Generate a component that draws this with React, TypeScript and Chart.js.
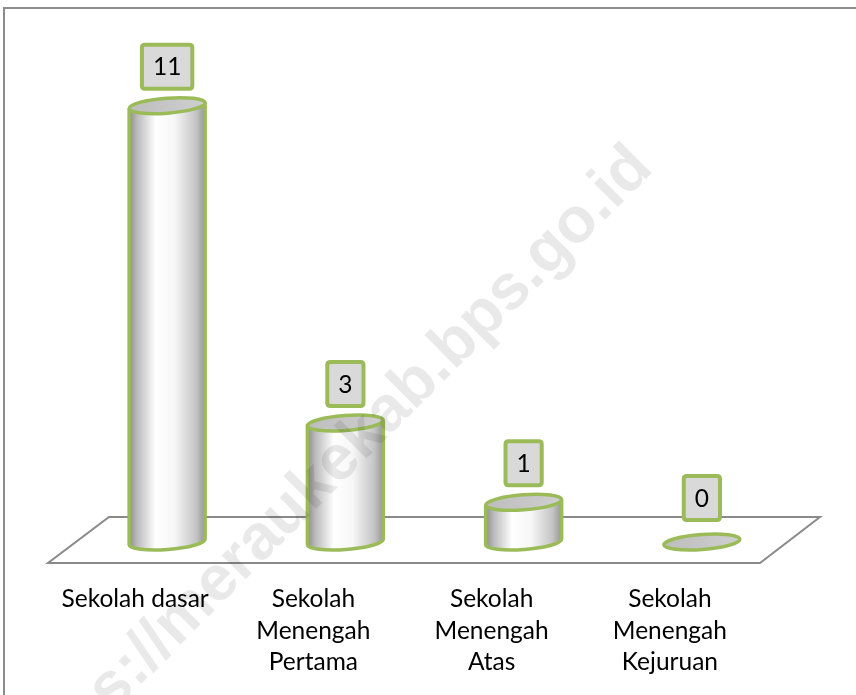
import React, { useEffect, useRef } from "react";
import { Chart, registerables } from "chart.js";

Chart.register(...registerables);

const categories: string[][] = [
  ["Sekolah dasar"],
  ["Sekolah", "Menengah", "Pertama"],
  ["Sekolah", "Menengah", "Atas"],
  ["Sekolah", "Menengah", "Kejuruan"],
];
const values: number[] = [11, 3, 1, 0];
const yMin = 0;
const yMax = 12;
const watermark = "https://meraukekab.bps.go.id";

const GREEN = "#9BBB59";
const FONT = "24.5px Lato";

function drawCylinder(ctx: CanvasRenderingContext2D, cx: number, yTop: number, yBot: number, rx: number, ry: number, rot: number) {
  ctx.save();
  if (yBot - yTop > 0.5) {
    const g = ctx.createLinearGradient(cx - rx, 0, cx + rx, 0);
    g.addColorStop(0, "#8c8c8c");
    g.addColorStop(0.1, "#b8b8b8");
    g.addColorStop(0.35, "#ffffff");
    g.addColorStop(0.6, "#f6f6f6");
    g.addColorStop(0.88, "#c4c4c4");
    g.addColorStop(1, "#959595");
    ctx.beginPath();
    ctx.ellipse(cx, yBot, rx, ry, rot, 0, Math.PI, false);
    ctx.ellipse(cx, yTop, rx, ry, rot, Math.PI, 2 * Math.PI, false);
    ctx.closePath();
    ctx.fillStyle = g;
    ctx.fill();
    ctx.beginPath();
    ctx.ellipse(cx, yTop, rx, ry, rot, 0, 0, false);
    ctx.ellipse(cx, yBot, rx, ry, rot, 0, Math.PI, false);
    ctx.ellipse(cx, yTop, rx, ry, rot, Math.PI, Math.PI, false);
    ctx.strokeStyle = GREEN;
    ctx.lineWidth = 3.5;
    ctx.lineJoin = "round";
    ctx.stroke();
  }
  const tg = ctx.createLinearGradient(cx - rx, 0, cx + rx, 0);
  tg.addColorStop(0, "#bdbdbd");
  tg.addColorStop(1, "#cfcfcf");
  ctx.beginPath();
  ctx.ellipse(cx, yTop, rx, ry, rot, 0, 2 * Math.PI);
  ctx.fillStyle = tg;
  ctx.fill();
  ctx.strokeStyle = GREEN;
  ctx.lineWidth = 3.5;
  ctx.stroke();
  ctx.restore();
}

function roundRect(ctx: CanvasRenderingContext2D, x: number, y: number, w: number, h: number, r: number) {
  ctx.beginPath();
  ctx.moveTo(x + r, y);
  ctx.lineTo(x + w - r, y);
  ctx.quadraticCurveTo(x + w, y, x + w, y + r);
  ctx.lineTo(x + w, y + h - r);
  ctx.quadraticCurveTo(x + w, y + h, x + w - r, y + h);
  ctx.lineTo(x + r, y + h);
  ctx.quadraticCurveTo(x, y + h, x, y + h - r);
  ctx.lineTo(x, y + r);
  ctx.quadraticCurveTo(x, y, x + r, y);
  ctx.closePath();
}

const cylinderPlugin = {
  id: "cylinders",
  beforeDraw(chart: any) {
    const ctx = chart.ctx as CanvasRenderingContext2D;
    ctx.save();
    ctx.fillStyle = "#ffffff";
    ctx.fillRect(0, 0, chart.width, chart.height);
    ctx.restore();
  },
  beforeDatasetsDraw(chart: any) {
    const ctx = chart.ctx as CanvasRenderingContext2D;
    const area = chart.chartArea;
    const base = chart.scales.y.getPixelForValue(0);
    ctx.save();
    ctx.beginPath();
    ctx.moveTo(area.left + 31, base - 25);
    ctx.lineTo(area.right + 29, base - 25);
    ctx.lineTo(area.right - 31, base + 21);
    ctx.lineTo(area.left - 30, base + 21);
    ctx.closePath();
    ctx.fillStyle = "#ffffff";
    ctx.fill();
    ctx.strokeStyle = "#8a8a8a";
    ctx.lineWidth = 2;
    ctx.stroke();
    ctx.restore();
  },
  afterDatasetsDraw(chart: any) {
    const ctx = chart.ctx as CanvasRenderingContext2D;
    const meta = chart.getDatasetMeta(0);
    const rot = -0.075;
    const ry = 7.5;
    meta.data.forEach((el: any) => {
      const rx = el.width / 2 - 2;
      drawCylinder(ctx, el.x, el.y, el.base, rx, ry, rot);
    });
    ctx.save();
    ctx.font = FONT;
    meta.data.forEach((el: any, i: number) => {
      const txt = String(values[i]);
      const tw = ctx.measureText(txt).width;
      const w = tw + 22;
      const h = 44;
      const bottom = el.y - 17 - (values[i] === 0 ? 5 : 0);
      const x = el.x - w / 2;
      const y = bottom - h;
      roundRect(ctx, x, y, w, h, 3);
      ctx.fillStyle = "#d9d9d9";
      ctx.fill();
      ctx.strokeStyle = GREEN;
      ctx.lineWidth = 4;
      ctx.stroke();
      ctx.fillStyle = "#000000";
      ctx.textAlign = "center";
      ctx.textBaseline = "alphabetic";
      ctx.fillText(txt, el.x, y + h / 2 + 8.5);
    });
    const base = chart.scales.y.getPixelForValue(0);
    ctx.fillStyle = "#000000";
    ctx.textAlign = "center";
    ctx.textBaseline = "alphabetic";
    meta.data.forEach((el: any, i: number) => {
      categories[i].forEach((line, j) => {
        ctx.fillText(line, el.x - 32, base + 65 + j * 31.5);
      });
    });
    ctx.restore();
  },
  afterDraw(chart: any) {
    const ctx = chart.ctx as CanvasRenderingContext2D;
    ctx.save();
    ctx.strokeStyle = "#8c8c8c";
    ctx.lineWidth = 2;
    ctx.strokeRect(4, 8, chart.width + 20, chart.height + 20);
    ctx.translate(655, 170);
    ctx.rotate(-Math.PI / 4);
    ctx.font = "bold 64px 'Liberation Sans'";
    ctx.textAlign = "right";
    ctx.textBaseline = "alphabetic";
    ctx.fillStyle = "rgba(0,0,0,0.085)";
    ctx.fillText(watermark, 0, 0);
    ctx.restore();
  },
};

export default function App() {
  const ref = useRef<HTMLCanvasElement | null>(null);
  useEffect(() => {
    if (!ref.current) return;
    const chart = new Chart(ref.current, {
      type: "bar",
      data: {
        labels: categories.map((c) => c.join(" ")),
        datasets: [
          {
            data: values,
            backgroundColor: "rgba(0,0,0,0)",
            borderWidth: 0,
            barPercentage: 1,
            categoryPercentage: 0.45,
          },
        ],
      },
      options: {
        responsive: false,
        animation: false,
        layout: { padding: { left: 78, right: 65, top: 66, bottom: 153 } },
        plugins: { legend: { display: false }, tooltip: { enabled: false } },
        scales: {
          x: { display: false },
          y: { display: false, min: yMin, max: yMax },
        },
      },
      plugins: [cylinderPlugin],
    });
    return () => chart.destroy();
  }, []);
  return (
    <div style={{ position: "absolute", left: 0, top: 0, width: 856, height: 695 }}>
      <canvas ref={ref} width={856} height={695} style={{ display: "block" }} />
    </div>
  );
}
